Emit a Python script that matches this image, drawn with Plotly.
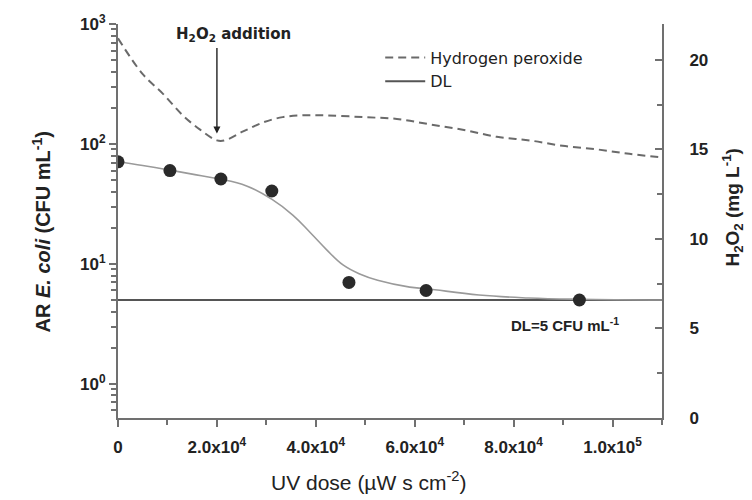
import plotly.graph_objects as go

# UV dose (uW s cm^-2) and measured AR E. coli counts (CFU/mL)
dose_points = [0, 1.05e4, 2.08e4, 3.11e4, 4.67e4, 6.23e4, 9.33e4]
ecoli_points = [71, 60, 51, 40.5, 7.0, 6.0, 5.0]

# Fitted inactivation curve
fit_dose = [0, 0.5e4, 1.0e4, 1.5e4, 2.0e4, 2.6e4, 3.1e4, 3.54e4, 3.9e4, 4.22e4,
            4.55e4, 4.9e4, 5.25e4, 5.9e4, 6.25e4, 7.3e4, 8.3e4, 9.33e4, 1.1e5]
fit_ecoli = [71, 66, 61, 56, 51.5, 44.7, 34.8, 25.4, 18, 13.1,
             9.8, 8.2, 7.3, 6.4, 6.2, 5.5, 5.2, 5.07, 5.0]

# Hydrogen peroxide concentration (mg/L)
h2o2_dose = [0, 0.5e4, 0.91e4, 1.31e4, 1.66e4, 2.0e4, 2.16e4, 2.53e4, 2.93e4, 3.33e4,
             3.74e4, 4.22e4, 4.95e4, 5.64e4, 6.3e4, 6.97e4, 7.66e4, 8.32e4, 8.99e4,
             9.68e4, 1.034e5, 1.1e5]
h2o2_conc = [21.2, 19.2, 18.1, 16.9, 16.1, 15.5, 15.5, 16.0, 16.5, 16.8,
             16.9, 16.9, 16.8, 16.7, 16.4, 16.1, 15.7, 15.5, 15.2,
             15.0, 14.75, 14.55]

# Detection limit
dl_value = 5
dl_dose = [0, 1.1e5]

x_tickvals = [0, 2e4, 4e4, 6e4, 8e4, 1e5]
x_ticktext = ["0", "2.0x10<sup>4</sup>", "4.0x10<sup>4</sup>", "6.0x10<sup>4</sup>",
              "8.0x10<sup>4</sup>", "1.0x10<sup>5</sup>"]
y_tickvals = [1, 10, 100, 1000]
y_ticktext = ["10<sup>0</sup>", "10<sup>1</sup>", "10<sup>2</sup>", "10<sup>3</sup>"]
y2_tickvals = [0, 5, 10, 15, 20]

AXIS = "#707070"
TXT = "#222222"
FONT = "Liberation Sans, Arial, sans-serif"
FONT2 = "DejaVu Sans, sans-serif"

fig = go.Figure()

fig.add_trace(go.Scatter(
    x=h2o2_dose, y=h2o2_conc, yaxis="y2", mode="lines", name="Hydrogen peroxide",
    line=dict(color="#6a6a6a", width=2, dash="8px,5px", shape="spline", smoothing=1),
))
fig.add_trace(go.Scatter(
    x=dl_dose, y=[dl_value, dl_value], mode="lines", name="DL",
    line=dict(color="#555555", width=2),
))
fig.add_trace(go.Scatter(
    x=fit_dose, y=fit_ecoli, mode="lines", showlegend=False,
    line=dict(color="#9a9a9a", width=1.6, shape="spline", smoothing=1.2),
))
fig.add_trace(go.Scatter(
    x=dose_points, y=ecoli_points, mode="markers", showlegend=False,
    marker=dict(color="#2a2a2a", size=13),
))

minor_log = [m * 10 ** e for e in range(-1, 3) for m in range(2, 10)]

fig.update_layout(
    width=752, height=500,
    margin=dict(l=118, r=90, t=17, b=82),
    paper_bgcolor="white", plot_bgcolor="white",
    font=dict(family=FONT, color=TXT),
    showlegend=True,
    legend=dict(x=0.482, y=0.958, xanchor="left", yanchor="top",
                bgcolor="rgba(0,0,0,0)", font=dict(family=FONT2, size=16, color=TXT),
                tracegroupgap=0, itemwidth=40),
    xaxis=dict(
        range=[0, 1.1e5], showgrid=False, zeroline=False,
        showline=True, linecolor=AXIS, linewidth=2,
        tickmode="array", tickvals=x_tickvals, ticktext=x_ticktext,
        ticks="outside", ticklen=7, tickwidth=2, tickcolor=AXIS,
        ticklabelstandoff=6,
        tickfont=dict(size=17, weight="bold", color=TXT),
        minor=dict(tickmode="linear", tick0=0, dtick=1e4, ticks="outside",
                   ticklen=5, tickwidth=1.5, tickcolor=AXIS, showgrid=False),
    ),
    yaxis=dict(
        type="log", range=[-0.285, 3.0], showgrid=False, zeroline=False,
        showline=True, linecolor=AXIS, linewidth=2,
        tickmode="array", tickvals=y_tickvals, ticktext=y_ticktext,
        ticks="outside", ticklen=7, tickwidth=2, tickcolor=AXIS,
        tickfont=dict(size=17, weight="bold", color=TXT),
        minor=dict(tickmode="array", tickvals=minor_log, ticks="outside",
                   ticklen=5, tickwidth=1.5, tickcolor=AXIS, showgrid=False),
    ),
    yaxis2=dict(
        overlaying="y", side="right", range=[0, 22], showgrid=False, zeroline=False,
        showline=True, linecolor=AXIS, linewidth=2,
        tickmode="array", tickvals=y2_tickvals,
        ticks="inside", ticklen=7, tickwidth=2, tickcolor=AXIS,
        ticklabelstandoff=22,
        tickfont=dict(size=17, weight="bold", color=TXT),
        minor=dict(tickmode="linear", tick0=0, dtick=2.5, ticks="inside",
                   ticklen=5, tickwidth=1.5, tickcolor=AXIS, showgrid=False),
    ),
)

fig.add_annotation(
    x=0, y=0.471, xref="paper", yref="paper", xshift=-77, textangle=-90,
    text="<b>AR <i>E. coli</i> (CFU mL<sup>-1</sup>)</b>", showarrow=False,
    font=dict(size=20, color=TXT), xanchor="center", yanchor="middle",
)
fig.add_annotation(
    x=1, y=0.534, xref="paper", yref="paper", xshift=71, textangle=-90,
    text="<b>H<sub>2</sub>O<sub>2</sub> (mg L<sup>-1</sup>)</b>", showarrow=False,
    font=dict(size=19, color=TXT), xanchor="center", yanchor="middle",
)
fig.add_annotation(
    x=0.461, y=0, xref="paper", yref="paper", yshift=-63,
    text="UV dose (\u00b5W s cm<sup>-2</sup>)", showarrow=False,
    font=dict(size=21, color=TXT), xanchor="center", yanchor="middle",
)

# H2O2 addition marker pointing to the concentration minimum
fig.add_annotation(
    x=2.0e4, y=15.5, xref="x", yref="y2", text="", showarrow=True,
    ax=0, ay=-94, axref="pixel", ayref="pixel",
    arrowhead=2, arrowsize=1, arrowwidth=1.4, arrowcolor="#222222", standoff=7,
)
fig.add_annotation(
    x=2.0e4, y=1, xref="x", yref="paper", xshift=17, yshift=-10,
    text="<b>H<sub>2</sub>O<sub>2</sub> addition</b>", showarrow=False,
    font=dict(family=FONT2, size=15, color=TXT), xanchor="center", yanchor="middle",
)
fig.add_annotation(
    x=9.03e4, y=0.69897, xref="x", yref="y", yshift=-25,
    text="<b>DL=5 CFU mL<sup>-1</sup></b>", showarrow=False,
    font=dict(size=15, color=TXT), xanchor="center", yanchor="middle",
)

fig.write_html("out.html")
